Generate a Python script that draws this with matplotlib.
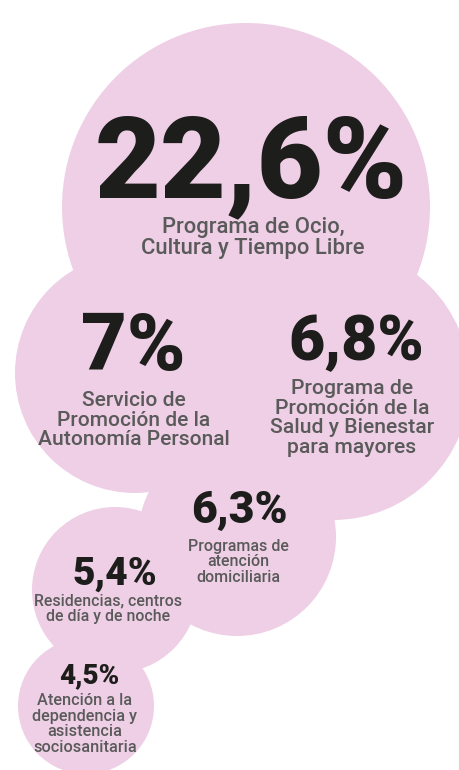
import matplotlib
matplotlib.use('Agg')
from matplotlib import pyplot as plt
from matplotlib.patches import Circle

# shares of the budget, biggest bubble first
values = ['22,6%', '7%', '6,8%', '6,3%', '5,4%', '4,5%']
labels = ['Programa de Ocio,\nCultura y Tiempo Libre',
          'Servicio de\nPromoción de la\nAutonomía Personal',
          'Programa de\nPromoción de la\nSalud y Bienestar\npara mayores',
          'Programas de\natención\ndomiciliaria',
          'Residencias, centros\nde día y de noche',
          'Atención a la\ndependencia y\nasistencia\nsociosanitaria']

# bubble layout in pixels (x, y, radius)
bubbles = [(246, 207, 184), (135, 373, 120), (333, 383, 137),
           (237, 537, 99), (115, 590, 83), (86, 706, 68)]
value_pos = [(251, 197), (133, 370), (356, 360), (239, 523), (115, 585), (89, 683)]
value_size = [82, 57, 45, 32, 28, 20]
label_pos = [(253, 238), (134, 420), (352, 418), (238, 562), (108, 609), (85, 724)]
label_size = [15.8, 15.1, 15.2, 11.5, 11.4, 11.7]
label_spacing = [1.0, 1.06, 1.05, 1.05, 1.055, 1.04]

PINK = '#eecfe5'
DARK = '#1d1d1b'
GREY = '#5a5a5a'

fig = plt.figure(figsize = (4.59, 7.70), dpi = 100)
ax = fig.add_axes([0, 0, 1, 1])
ax.set_xlim(0, 459)
ax.set_ylim(770, 0)
ax.axis('off')

for (x, y, r) in bubbles:
  ax.add_patch(Circle((x, y), r, facecolor = PINK, edgecolor = 'none'))

for i in range(len(values)):
  ax.text(value_pos[i][0], value_pos[i][1], values[i],
          ha = 'center', va = 'baseline', color = DARK,
          fontsize = value_size[i], fontfamily = 'Roboto', fontweight = 'heavy')
  ax.text(label_pos[i][0], label_pos[i][1], labels[i],
          ha = 'center', va = 'center', multialignment = 'center', color = GREY,
          fontsize = label_size[i], fontfamily = 'Roboto', fontweight = 'medium',
          linespacing = label_spacing[i])

fig.savefig('out.png', dpi = 100)
